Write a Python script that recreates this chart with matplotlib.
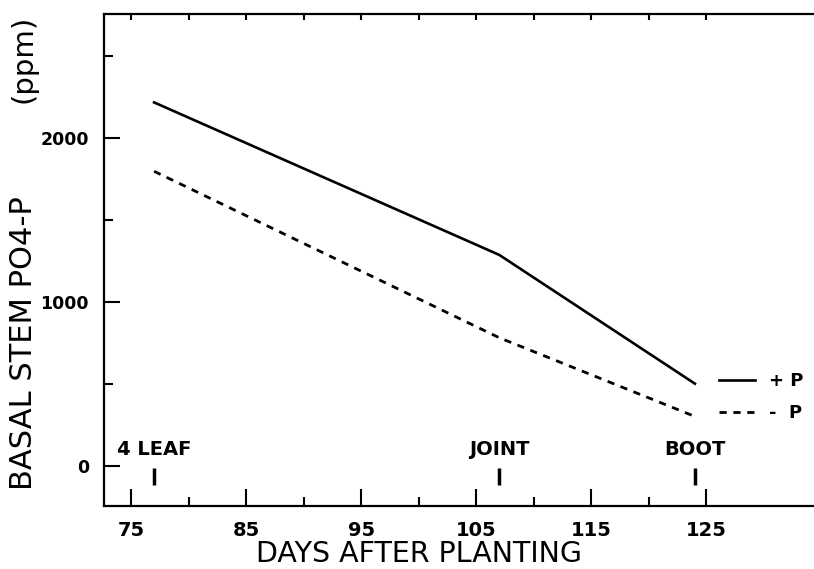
import matplotlib
matplotlib.use("Agg")
from matplotlib import pyplot as plt

# values
days = [77, 107, 124]
plus_p = [2215, 1285, 500]
minus_p = [1795, 780, 300]

stage_days = [77, 107, 124]
stage_names = ["4 LEAF", "JOINT", "BOOT"]

x_major = [75, 85, 95, 105, 115, 125]
x_minor = [80, 90, 100, 110, 120]
x_top = [75, 80, 85, 90, 95, 100, 105, 110, 115, 120, 125]
y_major = [0, 1000, 2000]
y_minor = [500, 1500, 2500]

fig = plt.figure(figsize=(8.14, 5.69), dpi=100)
ax = fig.add_axes([0.1278, 0.1107, 0.8722, 0.8647])

ax.plot(days, plus_p, color="black", lw=1.9, label="+ P")
ax.plot(days, minus_p, color="black", lw=2.0, dashes=(2.6, 2.4), label="-  P")

ax.set_xlim(72.65, 134.35)
ax.set_ylim(-246, 2754)

ax.spines["right"].set_visible(False)
ax.spines["top"].set_visible(False)
for s in ["left", "bottom"]:
    ax.spines[s].set_linewidth(1.6)

# bottom / left ticks
ax.set_xticks(x_major)
ax.set_xticks(x_minor, minor=True)
ax.set_yticks(y_major)
ax.set_yticks(y_minor, minor=True)
ax.tick_params(axis="x", which="major", direction="in", length=12, width=1.5, pad=11,
               labelsize=14)
ax.tick_params(axis="x", which="minor", direction="in", length=6.5, width=1.5)
ax.tick_params(axis="y", which="major", direction="in", length=11.5, width=1.5, pad=11,
               labelsize=12.5)
ax.tick_params(axis="y", which="minor", direction="in", length=6.5, width=1.5)
for lab in ax.get_xticklabels() + ax.get_yticklabels():
    lab.set_fontweight("bold")

# top ticks every 5 days, no labels
top = ax.secondary_xaxis("top")
top.set_xticks(x_top, labels=[""] * len(x_top))
top.tick_params(direction="in", length=4.5, width=1.5)
top.spines["top"].set_linewidth(1.6)

# growth stage markers
for d, name in zip(stage_days, stage_names):
    ax.vlines(d, -120, -15, color="black", lw=2.5)
    ax.text(d, 40, name, ha="center", va="bottom", fontsize=14, fontweight="bold")

ax.set_xlabel("DAYS AFTER PLANTING", fontsize=20.5, va="center")
ax.xaxis.set_label_coords(0.443, -0.098)
ax.set_ylabel("BASAL STEM PO4-P", fontsize=22, va="center", ha="center")
ax.yaxis.set_label_coords(-0.114, 0.331)
ax.text(-0.114, 0.908, "(ppm)", transform=ax.transAxes, rotation=90,
        fontsize=21, ha="center", va="center")

ax.legend(loc="upper left", bbox_to_anchor=(719 / 814, 1 - 372 / 569),
          bbox_transform=fig.transFigure, frameon=False, handlelength=2.0,
          handletextpad=0.75, borderpad=0, borderaxespad=0, labelspacing=0.78,
          prop=dict(weight="bold", size=13))

plt.savefig("out.png", dpi=100)
